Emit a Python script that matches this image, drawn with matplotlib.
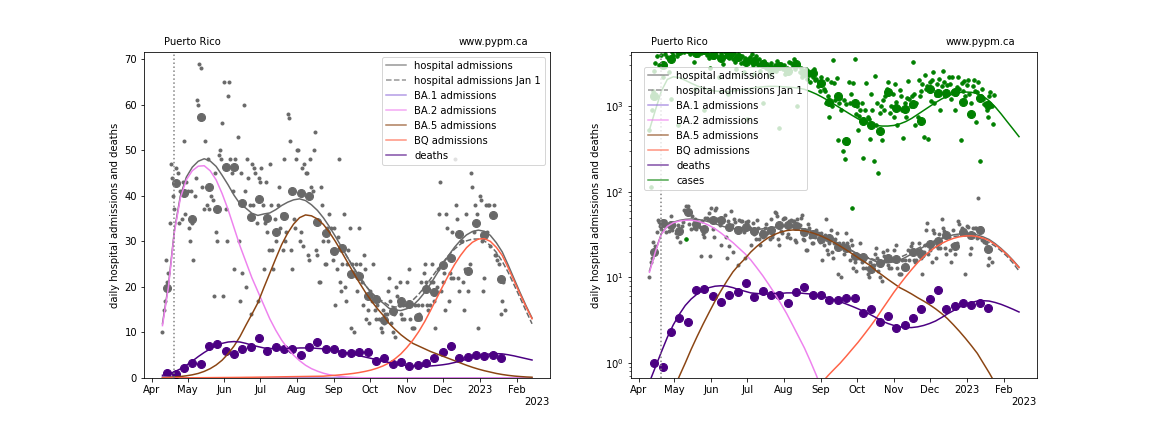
import datetime
import matplotlib
matplotlib.use('Agg')
import matplotlib.pyplot as plt
import matplotlib.dates as mdates

# --- data ---
daily_start = datetime.date(2022, 4, 10)
weekly_start = datetime.date(2022, 4, 14)
model_start = datetime.date(2022, 4, 10)
model_step = 5
jan1_offset = 30          # index in the model series where the Jan 1 fit starts to differ
marker_date = datetime.date(2022, 4, 20)
x_range = (datetime.datetime(2022, 3, 25, 12), datetime.datetime(2023, 2, 28, 22))

hosp_daily = [
    10, 15, 17, 26, 21, 23, 34,  47, 44, 40, 37, 46, 43, 45,
    34, 41, 35, 43, 52, 36, 43,  41, 33, 30, 41, 34, 26, 40,
    44, 61, 60, 69, 68, 42, 57,  37, 52, 38, 48, 37, 42, 40,
    39, 18, 45, 32, 30, 49, 50,  48, 56, 18, 65, 37, 30, 62,
    65, 48, 45, 41, 24, 48, 46,  53, 30, 17, 45, 23, 60, 41,
    20, 48, 44, 38, 14, 47, 38,  46, 45, 34, 17, 44, 43, 46,
    38, 24, 34, 43, 32, 28, 47,  38, 28, 24, 35, 30, 32, 38,
    42, 33, 36, 28, 48, 30, 32,  58, 57, 52, 28, 24, 35, 33,
    48, 50, 50, 30, 32, 46, 29,  47, 45, 45, 27, 26, 48, 42,
    41, 50, 54, 28, 27, 21, 21,  42, 38, 30, 25, 25, 33, 30,
    36, 33, 28, 26, 33, 16, 24,  31, 48, 21, 19, 25, 36, 20,
    17, 25, 28, 33, 11, 25, 23,  10, 25, 19, 23, 33, 25, 21,
    16, 27, 24, 13, 15, 12, 19,  18, 17, 25, 15, 13, 16, 17,
    13, 11, 10, 15, 12, 14, 14,  19, 22, 17, 12, 10, 14, 9,
    20, 18, 16, 21, 14, 13, 16,  13, 16, 21, 16, 24, 13, 11,
    11, 11, 16, 13, 16, 14, 13,  21, 16, 23, 25, 21, 16, 15,
    16, 21, 25, 21, 17, 11, 20,  24, 36, 43, 19, 21, 23, 15,
    36, 33, 17, 23, 22, 32, 22,  48, 38, 35, 22, 19, 30, 30,
    21, 15, 24, 36, 19, 24, 25,  45, 42, 32, 38, 34, 36, 11,
    40, 39, 30, 19, 22, 38, 32,  38, 38, 29, 85, 36, 38, 27,
    27, 26, 25, 22, 14, 17, 21,  15,
]
hosp_weekly = [
    19.8, 42.9, 40.6, 35.0, 57.4, 42.0, 37.1, 46.3, 46.3, 38.5,
    35.4, 39.3, 35.2, 32.1, 35.5, 41.0, 40.7, 40.0, 34.3, 31.9,
    27.9, 28.6, 22.9, 22.3, 18.0, 17.3, 12.7, 14.7, 16.9, 16.2,
    13.4, 19.6, 18.8, 24.8, 26.4, 31.7, 23.4, 34.0, 31.4, 35.7,
    21.7,
]
deaths_weekly = [
    1.0, 0.9, 2.3, 3.4, 3.0, 7.1, 7.4, 6.0, 5.2, 6.3,
    6.8, 8.7, 5.9, 6.9, 6.3, 6.3, 5.0, 6.7, 7.8, 6.3,
    6.3, 5.5, 5.4, 5.8, 5.8, 3.8, 4.3, 3.0, 3.5, 2.6,
    2.8, 3.4, 4.3, 5.6, 7.1, 4.3, 4.6, 5.0, 4.8, 5.0,
    4.4,
]
cases_daily = [
    520, 115, 900, 1500, 2600, 3200, 3800,  4500, 3000, 5200, 3900, 2200, 4800, 4100,
    4600, 3700, 2500, 4900, 1200, 4300, 3900,  5200, 4800, 3800, 600, 4700, 4400, 5100,
    5400, 4300, 4900, 28, 4600, 5600, 4100,  4400, 5000, 3300, 1600, 4700, 5200, 4000,
    4800, 4200, 5300, 4500, 900, 4600, 3900,  4100, 3600, 2800, 4900, 4300, 3700, 4500,
    3900, 4400, 2200, 3500, 4200, 3800, 3100,  4300, 3800, 4600, 1400, 3600, 4100, 3900,
    3500, 4200, 3300, 2700, 4500, 3900, 3600,  3200, 3800, 2500, 3600, 3400, 700, 3500,
    3700, 3300, 4100, 3000, 2400, 3800, 3200,  3000, 3500, 2600, 3300, 1100, 3400, 3100,
    2800, 3100, 2300, 2900, 3200, 2500, 2700,  3000, 2600, 3400, 2800, 550, 3100, 2900,
    2700, 3000, 2400, 2800, 2500, 3300, 2600,  3200, 2900, 3500, 2700, 3100, 1000, 3000,
    2500, 2800, 2200, 2600, 2400, 2700, 2100,  2600, 2300, 1900, 2500, 2200, 2700, 2000,
    2100, 1700, 1900, 1500, 2200, 1800, 1600,  1500, 1100, 2100, 1300, 750, 1900, 1000,
    3470, 1850, 1180, 2120, 400, 1100, 1250,  900, 300, 1180, 240, 1050, 370, 1900,
    1080, 1400, 65, 1850, 3530, 800, 1000,  530, 760, 900, 1100, 250, 650, 900,
    1850, 750, 700, 410, 1400, 900, 230,  2250, 600, 1100, 165, 820, 1000, 400,
    1180, 900, 1300, 1600, 1900, 1450, 820,  1000, 1400, 750, 1800, 1120, 600, 950,
    1550, 1300, 900, 420, 1100, 750, 1250,  1950, 1200, 1000, 1300, 3260, 1400, 600,
    1100, 750, 2000, 1300, 1500, 1800, 440,  2300, 1600, 1700, 410, 1900, 1150, 2000,
    2500, 1100, 1350, 1800, 1450, 2100, 900,  1700, 2600, 1900, 1300, 1500, 1750, 2200,
    1800, 1200, 2200, 1500, 900, 1400, 1650,  2200, 1600, 400, 1850, 1500, 1950, 1300,
    1750, 2000, 1400, 800, 1100, 1700, 2000,  1500, 660, 1450, 1900, 230, 1300, 1600,
    1200, 1050, 1100, 900, 750, 1300, 1450,  1000, 620, 1350,
]
cases_weekly = [
    1300, 3030, 3530, 4400, 4700, 4200, 4500, 3900, 3650, 4000,
    3700, 3300, 3400, 3100, 2700, 2900, 2600, 3100, 2450, 2430,
    1850, 1130, 1295, 394, 1085, 674, 600, 511, 1457, 963,
    937, 1055, 668, 1580, 1418, 1418, 1457, 1113, 806, 1260,
    1035,
]

# model curves, one value every 5 days
ba1_model = [0.3, 0.2, 0.13, 0.08, 0.05, 0.03, 0.02] + [0.01] * 56
ba2_model = [
    11.5, 20, 32, 39.5, 43.5, 45.5, 46.5, 46.6, 45.5, 43.5,
    40.5, 37, 33, 29, 25.5, 22, 19, 16, 13, 10.5,
    8.3, 6.5, 5.0, 3.8, 2.8, 2.05, 1.5, 1.05, 0.72, 0.48,
    0.32, 0.2, 0.13, 0.08, 0.05, 0.03, 0.02, 0.012, 0.007, 0.004,
    0.002] + [0.001] * 22
ba5_model = [
    0.1, 0.15, 0.22, 0.33, 0.48, 0.7, 1.0, 1.45, 2.05, 2.85,
    3.9, 5.3, 7.0, 9.1, 11.6, 14.0, 16.5, 19.8, 23.0, 26.2,
    29.3, 31.8, 33.8, 35.2, 35.8, 35.6, 34.9, 33.7, 32.0, 30.0,
    27.8, 25.5, 23.2, 21.0, 18.9, 17.0, 15.3, 13.8, 12.0, 10.7,
    9.5, 8.5, 7.6, 7.0, 6.4, 5.8, 5.3, 4.8, 4.3, 3.8,
    3.3, 2.8, 2.35, 1.95, 1.6, 1.3, 1.0, 0.77, 0.58, 0.43,
    0.32, 0.23, 0.17,
]
bq_model = [
    0.02, 0.03, 0.03, 0.04, 0.05, 0.05, 0.06, 0.07, 0.08, 0.09,
    0.1, 0.11, 0.12, 0.13, 0.15, 0.16, 0.18, 0.2, 0.22, 0.24,
    0.26, 0.28, 0.3, 0.32, 0.34, 0.36, 0.38, 0.4, 0.5, 0.6,
    0.72, 0.85, 1.0, 1.2, 1.45, 1.75, 2.15, 2.65, 3.3, 4.2,
    5.3, 6.7, 8.3, 10.2, 12.4, 14.9, 17.5, 20.1, 22.6, 24.9,
    26.9, 28.6, 29.8, 30.5, 30.6, 30.0, 28.7, 26.9, 24.2, 21.3,
    18.4, 15.6, 13.0,
]
hosp_jan1_model = [
    28.85, 26.55, 24.35, 22.3, 20.4, 18.8, 17.6, 16.8, 15.9, 15.6,
    15.6, 16.2, 17.1, 18.4, 20.0, 21.8, 23.6, 25.3, 26.9, 28.3,
    29.4, 30.1, 30.5, 30.5, 30.1, 29.1, 27.6, 25.6, 23.2, 20.4,
    17.6, 14.7, 11.9,
]
deaths_model = [
    0.6, 0.9, 1.35, 2.0, 2.8, 3.7, 4.7, 5.6, 6.4, 7.1,
    7.6, 7.9, 8.0, 7.9, 7.6, 7.2, 6.9, 6.6, 6.5, 6.4,
    6.4, 6.5, 6.5, 6.6, 6.6, 6.6, 6.5, 6.4, 6.2, 6.0,
    5.8, 5.5, 5.2, 4.9, 4.6, 4.3, 4.0, 3.7, 3.4, 3.1,
    2.9, 2.75, 2.65, 2.6, 2.6, 2.65, 2.75, 2.9, 3.1, 3.4,
    3.75, 4.1, 4.5, 4.85, 5.1, 5.3, 5.35, 5.3, 5.1, 4.85,
    4.55, 4.25, 3.95,
]
cases_model = [
    530, 900, 1500, 2050, 2200, 2150, 2000, 1850, 1720, 1620,
    1550, 1500, 1480, 1480, 1500, 1530, 1570, 1610, 1650, 1680,
    1700, 1700, 1690, 1670, 1650, 1620, 1570, 1480, 1380, 1270,
    1160, 1050, 950, 860, 780, 710, 660, 620, 595, 585,
    585, 595, 620, 660, 720, 800, 890, 990, 1100, 1210,
    1310, 1390, 1440, 1460, 1450, 1400, 1300, 1150, 980, 810,
    660, 540, 440,
]


def days_from(start, n, step=1):
    return [start + datetime.timedelta(days=step * i) for i in range(n)]


hosp_dates = days_from(daily_start, len(hosp_daily))
cases_dates = days_from(daily_start, len(cases_daily))
weekly_dates = days_from(weekly_start, len(hosp_weekly), 7)
model_dates = days_from(model_start, len(ba2_model), model_step)
hosp_model = [a + b + c + d for a, b, c, d in zip(ba1_model, ba2_model, ba5_model, bq_model)]


def draw_panel(ax, log=False):
    ax.plot(hosp_dates, hosp_daily, 'o', color='dimgrey', markersize=3)
    ax.plot(weekly_dates, hosp_weekly, 'o', color='dimgrey', markersize=8)
    ax.plot(weekly_dates, deaths_weekly, 'o', color='indigo', markersize=8)
    if log:
        ax.plot(cases_dates, cases_daily, 'o', color='green', markersize=3.5)
        ax.plot(weekly_dates, cases_weekly, 'o', color='green', markersize=8)

    ax.plot(model_dates[jan1_offset:], hosp_jan1_model, color='dimgrey',
            ls='--', lw=1.5, label='hospital admissions Jan 1')
    ax.plot(model_dates, hosp_model, color='dimgrey', lw=1.5,
            label='hospital admissions')
    ax.plot(model_dates, ba1_model, color='mediumpurple', lw=1.5, label='BA.1 admissions')
    ax.plot(model_dates, ba2_model, color='violet', lw=1.5, label='BA.2 admissions')
    ax.plot(model_dates, ba5_model, color='saddlebrown', lw=1.5, label='BA.5 admissions')
    ax.plot(model_dates, bq_model, color='tomato', lw=1.5, label='BQ admissions')
    ax.plot(model_dates, deaths_model, color='indigo', lw=1.5, label='deaths')
    if log:
        ax.plot(model_dates, cases_model, color='green', lw=1.5, label='cases')

    ax.axvline(marker_date, color='grey', ls=':', lw=1.5)

    ax.set_xlim(x_range)
    locator = mdates.AutoDateLocator()
    ax.xaxis.set_major_locator(locator)
    ax.xaxis.set_major_formatter(mdates.ConciseDateFormatter(locator, show_offset=False))
    ax.text(1.0, -0.074, '2023', transform=ax.transAxes, ha='right', va='center')
    ax.set_ylabel('daily hospital admissions and deaths')
    ax.text(0.05, 1.02, 'Puerto Rico', transform=ax.transAxes)
    ax.text(0.946, 1.02, 'www.pypm.ca', transform=ax.transAxes, ha='right')

    handles, labels = ax.get_legend_handles_labels()
    order = ['hospital admissions', 'hospital admissions Jan 1', 'BA.1 admissions',
             'BA.2 admissions', 'BA.5 admissions', 'BQ admissions', 'deaths', 'cases']
    pairs = sorted(zip(handles, labels), key=lambda p: order.index(p[1]))
    h, l = zip(*pairs)
    if log:
        ax.set_yscale('log')
        ax.set_ylim(0.67, 4300)
        leg = ax.legend(h, l, loc='upper left', bbox_to_anchor=(0.02, 0.97))
    else:
        ax.set_ylim(0, 71.6)
        leg = ax.legend(h, l, loc='upper right')
    for line in leg.get_lines():
        line.set_alpha(0.7)


fig, (ax1, ax2) = plt.subplots(1, 2, figsize=(16, 6), dpi=72)
fig.subplots_adjust(left=0.125, right=0.9, bottom=0.125, top=0.88, wspace=0.2)
draw_panel(ax1)
draw_panel(ax2, log=True)
fig.savefig('out.png', dpi=72)
